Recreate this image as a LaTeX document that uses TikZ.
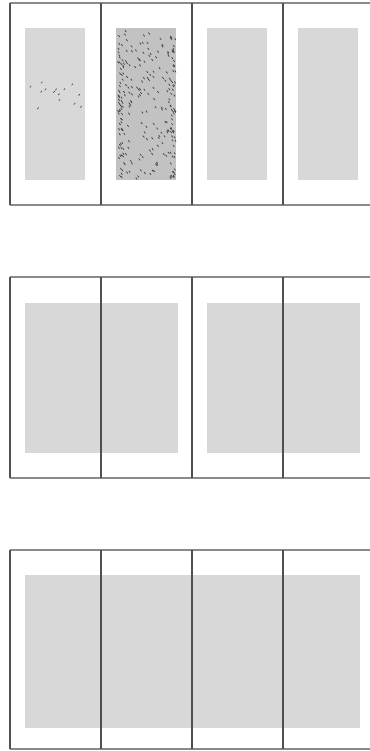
\documentclass[tikz,border=0pt]{standalone}
\usepackage{tikz}
\definecolor{rule}{HTML}{505050}
\definecolor{edge}{HTML}{8A8A8A}
\definecolor{tint}{HTML}{D8D8D8}
\definecolor{speck}{HTML}{404040}

\begin{document}
\begin{tikzpicture}[x=0.5pt, y=-0.5pt]
  \useasboundingbox (0, 0) rectangle (370, 751);
  % row 1: four single pages
  \foreach \k in {0, 1, 2, 3} {\fill[tint] (25+91*\k, 28) rectangle (85+91*\k, 180);}
  \fill[tint!90!black] (116, 28) rectangle (176, 180);
  \pgfmathsetseed{42}
  \foreach \i in {1, ..., 170} {
    \pgfmathsetmacro\sx{117+rnd*57}
    \pgfmathsetmacro\sy{30+rnd*148}
    \draw[speck, line width=0.35pt] (\sx, \sy) -- ++(1.4, 1.8);
  }
  \foreach \c in {118, 170} {
    \foreach \i in {1, ..., 45} {
      \pgfmathsetmacro\sx{\c+rnd*5}
      \pgfmathsetmacro\sy{30+rnd*148}
      \draw[speck, line width=0.35pt] (\sx, \sy) -- ++(1.2, 1.8);
    }
  }
  \foreach \i in {1, ..., 14} {
    \pgfmathsetmacro\sx{26+rnd*57}
    \pgfmathsetmacro\sy{82+rnd*28}
    \draw[speck, line width=0.3pt] (\sx, \sy) -- ++(1.4, -1.6);
  }
  \draw[edge, line width=0.6pt] (10, 3) -- (370, 3) (10, 205) -- (370, 205);
  \foreach \x in {10, 101, 192, 283} {\draw[rule, line width=0.6pt] (\x, 3) -- (\x, 205);}
  % row 2: two spreads
  \fill[tint] (25, 303) rectangle (178, 453);
  \fill[tint] (207, 303) rectangle (360, 453);
  \draw[edge, line width=0.6pt] (10, 277) -- (370, 277) (10, 478) -- (370, 478);
  \foreach \x in {10, 101, 192, 283} {\draw[rule, line width=0.6pt] (\x, 277) -- (\x, 478);}
  % row 3: one spread over four pages
  \fill[tint] (25, 575) rectangle (360, 728);
  \draw[edge, line width=0.6pt] (10, 550) -- (370, 550) (10, 749) -- (370, 749);
  \foreach \x in {10, 101, 192, 283} {\draw[rule, line width=0.6pt] (\x, 550) -- (\x, 749);}
\end{tikzpicture}
\end{document}
